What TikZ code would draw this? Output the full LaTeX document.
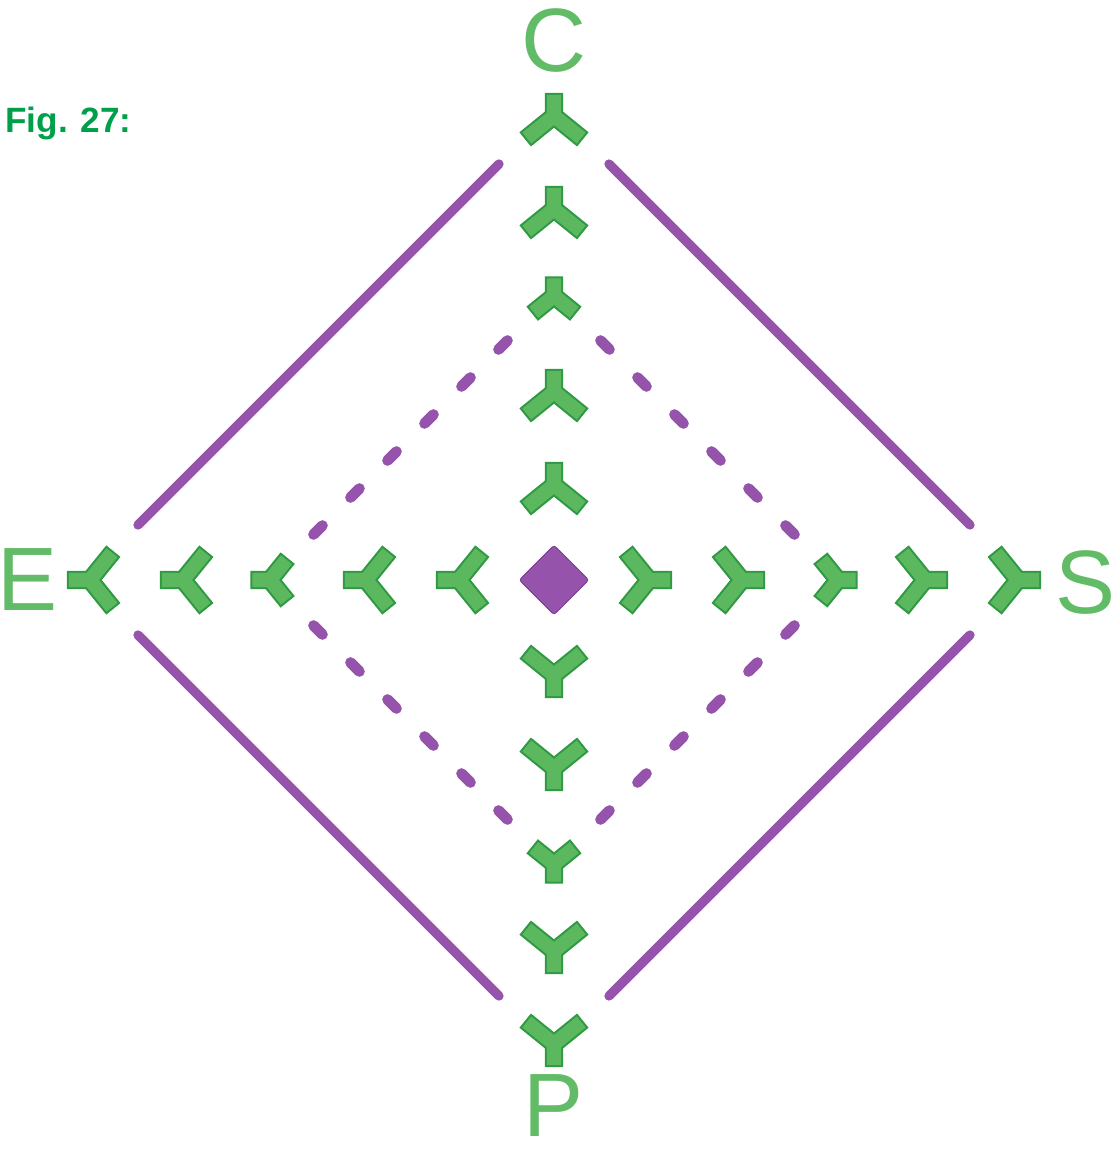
\documentclass[tikz,border=0pt]{standalone}
\usepackage{fontspec}
\setmainfont{Liberation Sans}
\usetikzlibrary{shapes.geometric}

\definecolor{abgreen}{HTML}{5CB85F}
\definecolor{abdark}{HTML}{2F9A43}
\definecolor{lblgreen}{HTML}{62BB66}
\definecolor{figgreen}{HTML}{00A04B}
\definecolor{mpurple}{HTML}{9553AB}
\definecolor{mpurpledark}{HTML}{7A3C92}

\tikzset{
  abedge/.style={draw=abdark, line width=13pt, line cap=rect, line join=miter},
  abcore/.style={draw=abgreen, line width=10pt, line cap=rect, line join=miter},
  % one antibody, stem pointing up: #1 arm length, #2 stem end
  pics/abody/.style n args={2}{code={
    \draw[abedge] (0,3) ++(219:#1) -- (0,3) -- ++(-39:#1) (0,12) -- (0,#2);
    \draw[abcore] (0,3) ++(219:#1) -- (0,3) -- ++(-39:#1) (0,12) -- (0,#2);
  }}
}

\begin{document}
\begin{tikzpicture}[x=0.025cm, y=0.025cm,
    outer/.style={draw=mpurple, line width=6.6pt, line cap=round},
    dashmark/.style={draw=mpurple, line width=7.6pt, line cap=round},
    core/.style={diamond, aspect=1, fill=mpurple, draw=mpurpledark, line width=0.6pt, rounded corners=2pt, inner sep=0pt, minimum width=1.75cm, minimum height=1.75cm},
    letter/.style={text=lblgreen, font=\fontsize{64}{64}\selectfont, inner sep=0pt},
    figlabel/.style={text=figgreen, font=\fontsize{25}{25}\selectfont\bfseries, inner sep=0pt}
  ]
  \useasboundingbox (-554,-573) rectangle (562,580);

  % outer solid square
  \draw[outer] (-416,55) -- (-55,416);
  \draw[outer] (55,416) -- (416,55);
  \draw[outer] (-416,-55) -- (-55,-416);
  \draw[outer] (55,-416) -- (416,-55);

  % dashed middle square
  \foreach \sx in {-1,1}
    \foreach \sy in {-1,1}
      \foreach \d in {51,88,125,162,199,236}
        \draw[dashmark] ({\sx*(\d-4.5)},{\sy*(286-\d+4.5)}) -- ({\sx*(\d+4.5)},{\sy*(286-\d-4.5)});

  \node[core] (ag) at (0,0) {};

  % antibodies on the four axes
  \foreach \r/\len/\stem in {92/28/17, 185/28/17, 281/19/13.5, 368/28/17, 461/28/17} {
    \pic at (0,\r) {abody={\len}{\stem}};
    \pic[rotate=180] at (0,-\r) {abody={\len}{\stem}};
    \pic[rotate=90] at (-\r,0) {abody={\len}{\stem}};
    \pic[rotate=-90] at (\r,0) {abody={\len}{\stem}};
  }

  \node[letter] (cv) at (0,539) {C};
  \node[letter] (ev) at (-526,0) {E};
  \node[letter] (sv) at (532,-3) {S};
  \node[letter] (pv) at (0,-526) {P};
  \node[figlabel, anchor=base west] (fig) at (-549,447) {Fig. 27:};
\end{tikzpicture}
\end{document}
